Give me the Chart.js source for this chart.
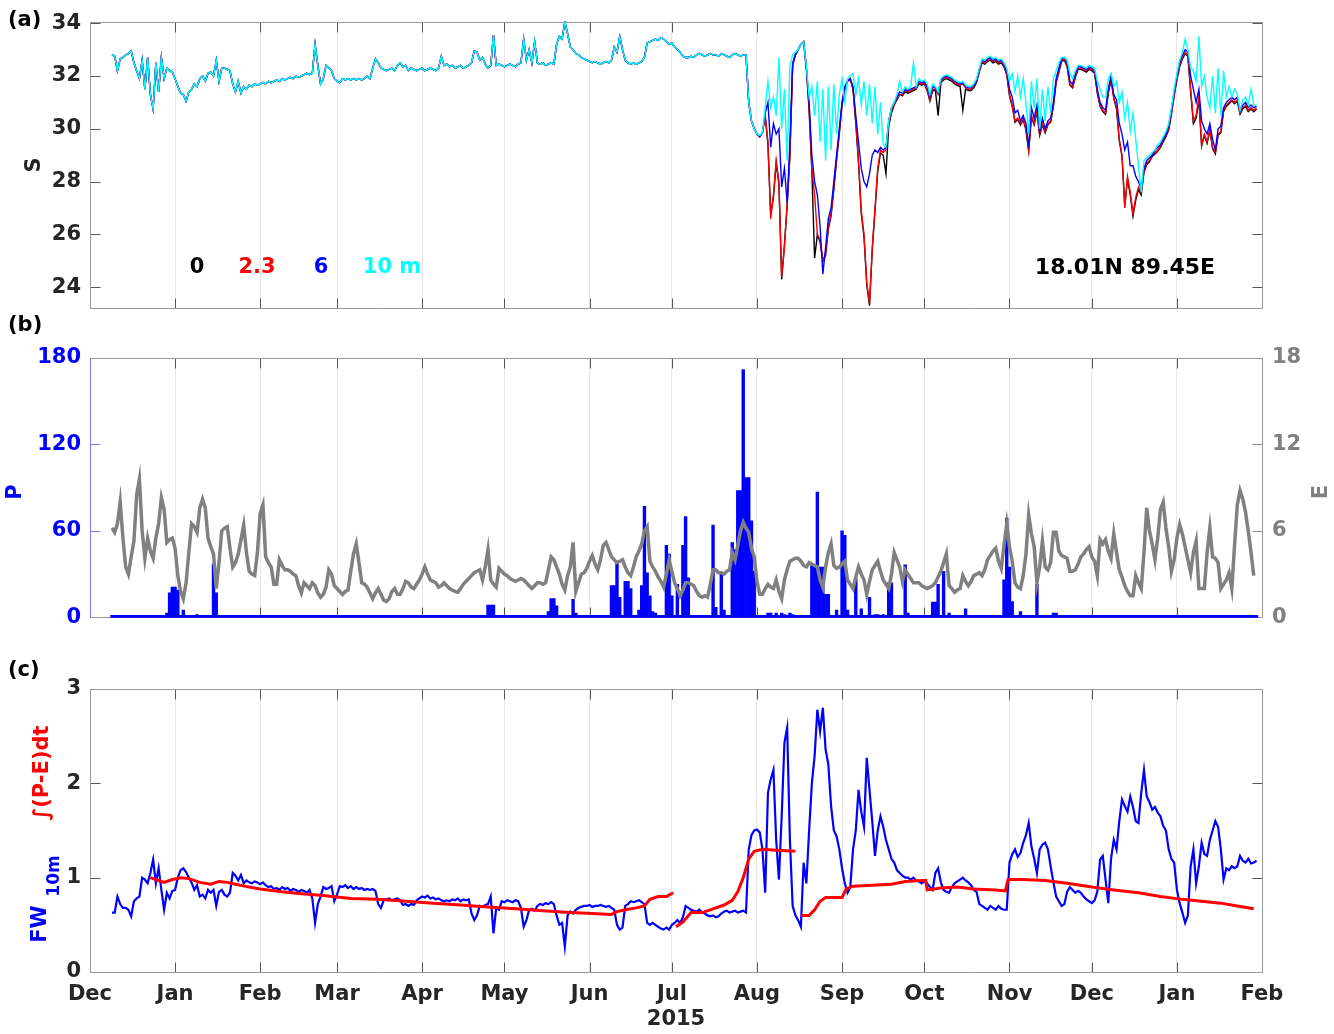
<!DOCTYPE html>
<html>
<head>
<meta charset="utf-8">
<script src="https://cdn.jsdelivr.net/npm/chart.js@4.4.1/dist/chart.umd.min.js"></script>
<style>
  html, body { margin: 0; padding: 0; background: #fff; }
  #wrap { position: relative; width: 1334px; height: 1034px; overflow: hidden; background: #fff; }
  canvas { position: absolute; left: 0; }
</style>
</head>
<body>
<div id="wrap">
  <canvas id="panelA" width="1334" height="330" style="top:0px"></canvas>
  <canvas id="panelB" width="1334" height="340" style="top:300px"></canvas>
  <canvas id="panelC" width="1334" height="394" style="top:640px"></canvas>
</div>
<script>
// days counted from 1 Dec 2014
const monthTicks = [0, 31, 62, 90, 121, 151, 182, 212, 243, 274, 304, 335, 365, 396, 427];
const monthLabels = ['Dec', 'Jan', 'Feb', 'Mar', 'Apr', 'May', 'Jun', 'Jul', 'Aug', 'Sep', 'Oct', 'Nov', 'Dec', 'Jan', 'Feb'];

const sTicks = [24, 26, 28, 30, 32, 34];
const pTicks = [0, 60, 120, 180];
const eTicks = [0, 6, 12, 18];
const fwTicks = [0, 1, 2, 3];

// salinity, days 8..240 (all depths together before the monsoon)
const sMixed = [
  32.8, 32.75, 32.2, 32.65, 32.7, 32.8, 32.85, 32.95, 32.5, 32.2,
  31.9, 32.6, 31.5, 32.7, 31.3, 30.75, 32.5, 31.4, 32.7, 31.9,
  32.3, 32.2, 32.15, 31.9, 31.6, 31.35, 31.3, 31.05, 31.4, 31.5,
  31.7, 31.6, 31.9, 32.0, 31.8, 32.1, 32.15, 32.0, 32.6, 31.8,
  32.3, 32.3, 32.25, 32.2, 31.7, 31.4, 31.8, 31.35, 31.6, 31.5,
  31.65, 31.6, 31.7, 31.65, 31.7, 31.75, 31.7, 31.8, 31.75, 31.8,
  31.85, 31.8, 31.9, 31.85, 31.9, 31.95, 31.9, 32.0, 31.95, 32.0,
  32.05, 32.1, 32.05, 32.1, 33.2, 32.4, 31.7, 31.9, 32.4, 32.3,
  32.2, 31.9, 31.8, 31.75, 31.9, 31.85, 31.9, 31.85, 31.9, 31.85,
  31.9, 31.85, 31.9, 32.0, 31.9, 32.3, 32.65, 32.5, 32.3, 32.25,
  32.2, 32.25, 32.3, 32.2, 32.4, 32.5, 32.35, 32.4, 32.2, 32.3,
  32.25, 32.2, 32.25, 32.3, 32.2, 32.25, 32.3, 32.25, 32.2, 32.3,
  32.75, 32.4, 32.45, 32.35, 32.4, 32.3, 32.35, 32.4, 32.3, 32.35,
  32.4, 32.5, 32.95, 32.9, 32.6, 32.7, 32.45, 32.3, 32.4, 33.55,
  32.4, 32.45, 32.4, 32.35, 32.4, 32.45, 32.4, 32.35, 32.45, 32.5,
  33.4, 32.6, 33.0, 32.5, 33.3, 32.5, 32.45, 32.5, 32.4, 32.45,
  32.5, 32.45, 33.2, 33.5, 33.4, 34.05, 33.6, 33.1, 33.0, 32.85,
  32.8, 32.7, 32.65, 32.6, 32.55, 32.5, 32.55, 32.5, 32.45, 32.5,
  32.55, 32.5, 32.6, 33.1, 32.9, 33.5, 33.0, 32.6, 32.5, 32.45,
  32.5, 32.45, 32.5, 32.55, 32.7, 33.25, 33.3, 33.35, 33.4, 33.35,
  33.45, 33.4, 33.3, 33.2, 33.25, 33.1, 33.0, 32.9, 32.75, 32.7,
  32.7, 32.75, 32.7, 32.8, 32.85, 32.8, 32.75, 32.8, 32.85, 32.8,
  32.8, 32.75, 32.85, 32.8, 32.75, 32.7, 32.8, 32.85, 32.8, 32.75,
  32.8, 32.8, 31.0
];

// salinity by depth, days 241..425
const s10m = [
  30.3, 30.0, 29.8, 29.75, 29.85, 30.8, 31.8, 30.8, 31.2, 30.5,
  32.7, 30.0, 31.5, 28.8, 32.4, 32.8, 32.9, 33.0, 33.2, 33.3,
  32.4, 31.2, 31.6, 30.5, 31.8, 29.5, 31.5, 28.8, 31.6, 29.2,
  31.7, 29.8, 31.3, 31.9, 31.0, 31.9, 32.0, 32.1, 31.3, 31.9,
  30.9, 31.8, 30.5, 31.7, 30.2, 31.6, 29.8, 31.0, 29.4, 29.3,
  30.3, 30.8, 31.0, 31.3, 31.8, 31.4, 31.6, 31.5, 31.6, 32.5,
  31.6, 31.9, 31.8, 31.85, 31.7, 31.3, 31.7, 31.6, 31.4, 31.9,
  32.0, 32.05, 32.0, 31.95, 31.85, 31.8, 31.75, 31.8, 31.65, 31.6,
  31.6, 31.7, 31.9, 32.3, 32.65, 32.6, 32.7, 32.75, 32.65, 32.7,
  32.6, 32.65, 32.5, 32.3, 31.8, 32.1, 31.4, 32.0, 31.2, 31.9,
  31.0, 29.8, 31.8, 30.8, 31.9, 30.0, 31.5, 30.3, 31.6, 30.6,
  31.9, 32.2, 32.5, 32.7, 32.7, 32.6, 32.1, 31.9, 32.2, 32.4,
  32.4, 32.35, 32.3, 32.4, 32.35, 32.3, 31.8, 31.5, 31.2, 31.2,
  31.9, 32.1, 31.6, 31.8, 31.0, 31.4, 30.4, 31.0, 29.9, 30.6,
  29.6, 28.6, 27.6, 28.8, 28.9, 29.0, 29.1, 29.2, 29.4, 29.5,
  29.7, 29.9, 30.2, 30.8, 31.5, 32.1, 32.6, 32.9, 33.4, 33.0,
  32.3, 32.2, 31.8, 33.5, 31.6, 32.0, 31.2, 30.8, 32.0, 30.6,
  32.3, 30.5, 32.2, 31.2, 31.6, 31.2, 31.5, 31.3, 30.7, 31.1,
  31.2, 30.9, 31.5, 30.9, 30.9
];
const s6m = [
  30.3, 30.0, 29.8, 29.7, 29.85, 30.6, 31.0, 29.3, 30.2, 29.8,
  30.0, 27.8, 28.5, 27.2, 29.5, 32.5, 32.8, 33.0, 33.2, 33.3,
  32.3, 31.0, 29.0, 28.0, 27.5, 26.3, 24.5, 25.5, 26.6, 27.0,
  28.0, 29.0, 30.0, 31.0, 31.6, 31.8, 31.9, 31.6, 30.5, 29.5,
  28.5, 28.0, 27.8, 28.3, 29.0, 29.2, 29.1, 29.3, 29.2, 29.3,
  30.3, 30.8, 31.0, 31.2, 31.4, 31.35, 31.5, 31.45, 31.5, 31.55,
  31.6, 31.8, 31.75, 31.8, 31.6, 31.2, 31.6, 31.55, 31.35, 31.85,
  31.95, 32.0, 31.95, 31.9, 31.8, 31.75, 31.7, 31.75, 31.6, 31.55,
  31.55, 31.65, 31.85, 32.25, 32.6, 32.55, 32.65, 32.7, 32.6, 32.65,
  32.55, 32.6, 32.45, 32.2, 31.5, 31.2, 30.6, 30.7, 30.3, 30.5,
  30.2, 29.3, 30.8, 30.4, 30.9, 29.9, 30.4, 30.0, 30.3, 30.4,
  31.0, 31.9, 32.3, 32.65, 32.7, 32.5, 31.8, 31.7, 32.1, 32.35,
  32.35, 32.3, 32.25, 32.35, 32.3, 32.2, 31.5, 31.0, 30.8, 30.7,
  31.5, 32.0, 31.3, 31.1, 30.2, 29.8, 29.2, 29.5, 28.6, 28.6,
  28.2, 28.0, 27.7, 28.5, 28.8, 28.9, 29.0, 29.2, 29.3, 29.4,
  29.6, 29.8, 30.1, 30.7, 31.4, 32.0, 32.5, 32.8, 33.0, 32.9,
  32.0, 31.5, 31.0, 31.5, 30.3, 30.0, 29.8, 30.2, 29.6, 29.2,
  30.0, 30.1, 30.8, 31.0, 31.1, 31.2, 31.1, 31.2, 30.65, 30.9,
  31.0, 30.8, 30.9, 30.8, 30.85
];
const s2p3m = [
  30.3, 30.0, 29.8, 29.7, 29.85, 30.5, 29.5, 26.6, 27.5, 28.8,
  28.0, 24.4, 25.5, 27.2, 29.0, 32.4, 32.8, 33.0, 33.2, 33.3,
  32.3, 30.8, 28.5, 27.5, 26.0, 25.8, 25.0, 25.3, 26.3, 26.8,
  27.8, 28.9, 29.9, 31.0, 31.5, 31.8, 31.9, 31.5, 30.3, 28.8,
  26.9, 26.0, 24.2, 23.4, 25.5, 27.0, 28.5, 29.2, 29.1, 29.2,
  30.2, 30.7, 30.95, 31.15, 31.3, 31.3, 31.45, 31.4, 31.45, 31.5,
  31.55, 31.75, 31.7, 31.75, 31.5, 31.1, 31.5, 31.5, 31.3, 31.8,
  31.9, 31.95, 31.9, 31.85, 31.75, 31.7, 31.65, 31.7, 31.55, 31.5,
  31.5, 31.6, 31.8, 32.2, 32.55, 32.5, 32.6, 32.65, 32.55, 32.6,
  32.5, 32.55, 32.4, 32.1, 31.3, 30.9, 30.3, 30.4, 30.2, 30.4,
  30.0, 29.2, 30.5, 30.2, 30.7, 29.8, 30.2, 29.9, 30.2, 30.3,
  30.9, 31.8, 32.2, 32.6, 32.65, 32.4, 31.7, 31.6, 32.0, 32.3,
  32.3, 32.25, 32.2, 32.3, 32.25, 32.15, 31.4, 30.9, 30.7, 30.6,
  31.4, 31.9, 31.2, 30.8, 29.6, 29.0, 27.0, 28.2, 27.6, 26.8,
  27.4, 27.8, 27.6, 28.4, 28.7, 28.8, 29.0, 29.1, 29.2, 29.35,
  29.55, 29.75, 30.0, 30.6, 31.3, 31.9, 32.4, 32.7, 32.9, 32.8,
  31.5, 30.3, 30.5, 31.2, 29.4, 29.8, 29.5, 30.0, 29.3, 29.1,
  29.8, 29.9, 30.7, 30.9, 31.0, 31.1, 31.0, 31.1, 30.6, 30.8,
  30.9, 30.7, 30.8, 30.7, 30.8
];
const s0m = [
  30.3, 30.0, 29.8, 29.7, 29.85, 30.5, 29.4, 26.8, 27.4, 28.7,
  27.9, 24.3, 25.6, 27.1, 29.0, 32.4, 32.8, 33.0, 33.2, 33.3,
  32.3, 30.7, 28.4, 25.1, 26.0, 25.7, 25.0, 25.2, 26.2, 26.7,
  27.7, 28.8, 29.8, 30.9, 31.5, 31.8, 31.9, 31.5, 30.2, 28.7,
  26.8, 25.9, 24.1, 23.3, 25.4, 26.9, 28.4, 29.1, 29.0, 28.3,
  30.1, 30.6, 30.9, 31.1, 31.3, 31.25, 31.4, 31.35, 31.4, 31.45,
  31.5, 31.7, 31.65, 31.7, 31.45, 31.05, 31.45, 31.45, 30.5, 31.75,
  31.85, 31.9, 31.85, 31.8, 31.7, 31.65, 31.6, 30.7, 31.5, 31.45,
  31.45, 31.55, 31.75, 32.15, 32.5, 32.45, 32.55, 32.6, 32.5, 32.55,
  32.45, 32.5, 32.35, 32.05, 31.25, 30.85, 30.25, 30.35, 30.15, 30.35,
  29.95, 29.15, 30.45, 30.15, 30.65, 29.75, 30.15, 29.85, 30.15, 30.25,
  30.85, 31.75, 32.15, 32.55, 32.6, 32.35, 31.65, 31.55, 31.95, 32.25,
  32.25, 32.2, 32.15, 32.25, 32.2, 32.1, 31.35, 30.85, 30.65, 30.55,
  31.35, 31.85, 31.15, 30.75, 29.55, 28.95, 27.1, 28.1, 27.5, 26.7,
  27.3, 27.7, 27.5, 28.35, 28.65, 28.75, 28.95, 29.05, 29.15, 29.3,
  29.5, 29.7, 29.95, 30.55, 31.25, 31.85, 32.35, 32.65, 32.85, 32.75,
  31.4, 30.2, 30.4, 31.1, 29.35, 29.75, 29.45, 29.95, 29.25, 29.05,
  29.75, 29.85, 30.65, 30.85, 30.95, 31.05, 30.95, 31.05, 30.55, 30.75,
  30.85, 30.65, 30.75, 30.65, 30.75
];

// precipitation: rainy days and daily totals (all other days 8..425 are dry)
const pDays = [
  28, 29, 30, 31, 32, 34, 39, 45, 46, 68,
  145, 146, 147, 148, 167, 168, 169, 170, 176, 177, 185,
  190, 191, 192, 193, 195, 196, 197, 200, 201, 202, 203, 204, 205, 206,
  210, 211, 212, 214, 216, 217, 218,
  227, 228, 230, 231, 234, 235, 236, 237, 238, 239, 240, 241, 242,
  247, 248, 250, 252, 253, 255, 256,
  263, 264, 265, 266, 267, 268, 269, 272, 274, 275, 276, 279, 281, 284, 286, 287, 289,
  291, 292, 297, 298, 307, 308, 309, 311, 313, 319,
  333, 334, 335, 336, 339, 345, 351, 352, 378, 379, 386
];
const pVals = [
  3, 17, 21, 21, 19, 5, 2, 37, 17, 1,
  8.5, 8.5, 8.5, 1.5, 4, 13, 13, 8, 12.5, 3, 1.5,
  22, 22, 38, 14, 25, 25, 20, 5, 22, 77, 31, 15, 4, 3,
  50, 44, 15, 23, 50, 70, 27.5,
  64, 7, 30, 5, 52, 47, 88, 88, 172, 97, 97, 67, 32,
  3, 3, 3, 3, 2, 3, 2,
  36, 36, 87, 35, 35, 16, 16, 5, 60, 57, 5, 27, 6, 14, 2, 2, 2,
  24, 24, 36.5, 3, 10.7, 10.7, 23, 32, 3, 6,
  26, 69, 35, 11, 4, 23, 3, 3, 1.5, 1.5, 1
];

// evaporation, days 8..424
const evap = [
  6.2, 5.9, 6.5, 8.0, 5.5, 3.5, 3.0, 4.2, 5.3, 8.5,
  9.6, 6.0, 4.1, 5.5, 4.6, 4.1, 5.5, 6.5, 8.3, 7.5,
  5.2, 5.4, 5.5, 4.8, 2.9, 1.8, 1.3, 2.4, 4.5, 6.5,
  6.3, 5.9, 7.6, 8.2, 7.6, 5.5, 4.9, 4.4, 2.0, 3.8,
  6.0, 6.2, 6.3, 4.8, 3.5, 3.8, 4.4, 5.4, 6.4, 4.5,
  3.2, 3.0, 2.9, 4.5, 7.2, 7.8, 4.2, 3.8, 3.5, 2.3,
  2.3, 4.0, 3.6, 3.3, 3.3, 3.2, 3.0, 2.9, 2.2, 1.7,
  2.4, 2.2, 2.0, 2.4, 2.2, 1.7, 1.4, 1.6, 2.1, 3.3,
  3.0, 2.2, 2.0, 1.8, 1.6, 1.8, 1.9, 3.2, 4.4, 5.1,
  3.8, 2.4, 2.3, 2.1, 1.7, 1.3, 1.7, 2.0, 1.6, 1.2,
  1.1, 1.3, 1.8, 2.0, 1.6, 1.6, 2.0, 2.5, 2.4, 2.1,
  2.0, 2.3, 2.6, 3.0, 3.5, 3.0, 2.6, 2.5, 2.4, 2.1,
  2.2, 2.4, 2.2, 2.0, 1.9, 1.8, 1.75, 2.0, 2.3, 2.5,
  2.7, 2.9, 3.1, 3.2, 3.3, 2.6, 3.5, 4.7, 2.6, 2.3,
  2.1, 3.4, 3.2, 3.0, 2.9, 2.7, 2.6, 2.5, 2.6, 2.7,
  2.6, 2.4, 2.2, 2.0, 2.2, 2.4, 2.4, 2.3, 2.4, 3.3,
  4.2, 4.0, 3.5, 3.0, 2.3, 1.9, 2.9, 3.5, 5.2, 1.8,
  2.4, 3.0, 3.1, 3.4, 3.9, 4.3, 3.7, 3.3, 4.0, 5.0,
  5.2, 4.7, 4.2, 4.0, 3.8, 3.9, 4.0, 3.5, 3.1, 2.9,
  3.5, 4.2, 4.6, 5.1, 6.0, 6.3, 3.9, 3.5, 3.2, 2.8,
  2.5, 2.1, 3.0, 4.0, 3.2, 2.4, 2.0, 1.5, 1.9, 2.4,
  2.4, 2.3, 2.2, 1.8, 1.5, 1.4, 1.5, 1.4, 2.3, 3.3,
  3.3, 3.1, 3.1, 3.0, 3.2, 3.3, 4.5, 4.0, 5.0, 6.0,
  6.6, 6.2, 5.9, 4.8, 4.2, 2.5, 1.6, 1.6, 2.0, 2.3,
  2.1, 2.0, 2.6, 1.8, 1.3, 2.6, 3.3, 3.9, 4.0, 4.1,
  4.1, 3.9, 3.6, 3.5, 3.8, 3.7, 3.6, 3.5, 2.6, 2.1,
  3.5, 4.5, 5.1, 3.6, 3.4, 3.5, 3.7, 3.9, 2.6, 2.3,
  2.0, 2.8, 3.5, 3.0, 2.6, 1.6, 2.5, 3.3, 3.6, 3.9,
  3.2, 2.6, 2.3, 2.0, 3.0, 4.5, 4.0, 3.5, 2.5, 3.3,
  3.0, 2.7, 2.4, 2.4, 2.4, 2.2, 2.1, 2.0, 2.1, 2.2,
  2.4, 2.8, 3.2, 3.8, 4.4, 2.2, 2.0, 1.75, 1.9, 2.0,
  2.9, 2.5, 2.2, 2.5, 2.9, 3.0, 3.1, 2.9, 3.3, 4.0,
  4.3, 4.6, 4.8, 3.9, 3.4, 5.0, 6.5, 4.9, 3.9, 2.4,
  2.1, 2.0, 2.9, 4.4, 7.1, 5.8, 4.9, 2.4, 3.5, 5.3,
  3.5, 3.3, 3.8, 5.9, 5.9, 4.6, 4.3, 4.2, 4.1, 3.2,
  3.2, 3.3, 3.7, 4.2, 4.4, 4.7, 4.9, 4.2, 3.9, 2.9,
  5.4, 5.1, 5.4, 4.6, 4.1, 5.8, 4.5, 3.3, 2.8, 2.2,
  1.8, 1.5, 1.5, 2.9, 2.4, 2.0, 4.5, 7.6, 6.0, 5.1,
  4.0, 5.5, 7.5, 8.0, 6.2, 4.9, 3.2, 4.0, 5.5, 6.45,
  5.8, 4.9, 4.0, 3.1, 4.5, 5.3, 2.0, 2.0, 2.0, 4.5,
  6.2, 4.2, 4.1, 3.8, 2.0, 2.3, 2.6, 3.1, 2.0, 5.0,
  7.8, 8.8, 8.2, 7.3, 6.0, 4.5, 2.9
];

// freshwater content of the top 10 m, days 8..425
const fw10m = [
  0.63, 0.63, 0.8, 0.72, 0.68, 0.68, 0.66, 0.59, 0.75, 0.78,
  0.8, 1.0, 0.98, 0.94, 1.05, 1.19, 0.94, 1.1, 0.87, 0.66,
  0.84, 0.78, 0.86, 0.87, 1.0, 1.08, 1.1, 1.06, 1.0, 0.95,
  0.87, 0.92, 0.8, 0.82, 0.78, 0.87, 0.84, 0.87, 0.7, 0.85,
  0.87, 0.82, 0.8, 0.84, 1.05, 1.02, 0.97, 1.03, 0.94, 0.97,
  0.95, 0.94, 0.96, 0.95, 0.93, 0.95, 0.92, 0.9, 0.91, 0.88,
  0.89, 0.87, 0.9, 0.88, 0.89, 0.86, 0.88, 0.87, 0.85, 0.87,
  0.86, 0.84, 0.87, 0.78, 0.52, 0.72, 0.8, 0.9, 0.88, 0.89,
  0.91, 0.75, 0.82, 0.91, 0.9, 0.92, 0.89, 0.91, 0.88, 0.9,
  0.88, 0.89, 0.87, 0.88, 0.87, 0.88, 0.86, 0.72, 0.68, 0.76,
  0.77, 0.78, 0.76, 0.77, 0.78, 0.76, 0.71, 0.72, 0.7, 0.72,
  0.71, 0.76, 0.78, 0.8, 0.79, 0.81, 0.78, 0.79, 0.77, 0.78,
  0.76, 0.75, 0.76, 0.75, 0.77, 0.76, 0.78, 0.75, 0.77, 0.76,
  0.77, 0.62, 0.55, 0.6, 0.7, 0.69, 0.71, 0.72, 0.8, 0.41,
  0.68, 0.66, 0.75, 0.74, 0.76, 0.75, 0.74, 0.76, 0.75, 0.68,
  0.48, 0.55, 0.66, 0.67, 0.65, 0.7, 0.72, 0.71, 0.73, 0.72,
  0.74, 0.72, 0.6, 0.5, 0.52, 0.27, 0.6, 0.64, 0.62, 0.66,
  0.68, 0.69, 0.7, 0.7, 0.71, 0.69, 0.7, 0.7, 0.71, 0.7,
  0.69, 0.7, 0.68, 0.66, 0.5, 0.45, 0.47, 0.7, 0.72, 0.75,
  0.74, 0.75, 0.76, 0.74, 0.72, 0.52, 0.5, 0.52, 0.5, 0.48,
  0.46, 0.45, 0.47, 0.45, 0.5, 0.52, 0.55, 0.52, 0.58, 0.7,
  0.68, 0.66, 0.65, 0.64, 0.66, 0.63, 0.62, 0.6, 0.59, 0.6,
  0.58, 0.59, 0.62, 0.64, 0.65, 0.63, 0.64, 0.65, 0.63, 0.64,
  0.65, 0.63, 1.3, 1.45, 1.5, 1.51, 1.48, 1.3, 0.84, 1.9,
  2.04, 2.14, 1.4, 0.98, 1.65, 2.43, 2.59, 1.4, 0.7, 0.6,
  0.55, 0.48, 1.16, 0.94, 1.5, 2.0, 2.29, 2.78, 2.55, 2.8,
  2.36, 2.2, 1.76, 1.5, 1.44, 1.3, 1.1, 0.94, 0.84, 0.9,
  1.3, 1.5, 1.93, 1.7, 1.54, 2.27, 1.93, 1.6, 1.23, 1.5,
  1.65, 1.54, 1.4, 1.3, 1.2, 1.16, 1.08, 1.05, 1.02, 1.0,
  1.0, 0.98, 1.0, 0.97, 0.96, 0.94, 0.96, 0.94, 0.9, 0.87,
  1.05, 1.1, 0.95, 0.87, 0.85, 0.84, 0.9, 0.94, 0.96, 0.98,
  1.0, 0.97, 0.95, 0.92, 0.87, 0.85, 0.72, 0.7, 0.68, 0.66,
  0.7, 0.68, 0.66, 0.7, 0.67, 0.66, 0.66, 1.16, 1.25, 1.3,
  1.22, 1.26, 1.37, 1.45, 1.58, 1.33, 1.2, 1.05, 1.3, 1.35,
  1.37, 1.3, 1.12, 0.95, 0.8, 0.75, 0.7, 0.72, 0.85, 0.9,
  0.87, 0.84, 0.86, 0.84, 0.8, 0.77, 0.75, 0.73, 0.76, 0.85,
  1.19, 1.23, 0.98, 0.73, 1.2, 1.4, 1.3, 1.6, 1.83, 1.76,
  1.7, 1.86, 1.75, 1.6, 1.58, 1.9, 2.14, 1.86, 1.8, 1.72,
  1.75, 1.69, 1.65, 1.55, 1.5, 1.3, 1.2, 1.16, 0.87, 0.73,
  0.63, 0.52, 0.6, 1.12, 1.3, 0.94, 1.12, 1.37, 1.25, 1.23,
  1.4, 1.5, 1.6, 1.54, 1.3, 0.98, 1.1, 1.08, 1.12, 1.1,
  1.12, 1.23, 1.18, 1.16, 1.2, 1.15, 1.16, 1.18
];

// integrated P-E (null = restart of the integration)
const pmeDays = [
  22, 25, 27, 30, 33, 36, 40, 44, 47, 50, 53, 58, 62, 70, 77, 85, 95, 105, 115, 125,
  135, 145, 155, 165, 175, 183, 190, 192, 195, 199, 202, 204, 207, 210, 212.5,
  213, 213.5, 216, 219, 223, 227, 231, 234, 236, 238, 240, 242, 245, 250, 257,
  258, 259, 262, 264, 266, 268, 274, 275.5, 278, 285, 292, 297, 303, 304.5, 305,
  310, 316, 322, 330, 333.5, 334.5, 340, 348, 356, 365, 373, 382, 390, 398, 405,
  412, 418, 424
];
const pmeVals = [
  1.0, 0.97, 0.95, 0.98, 1.0, 0.99, 0.95, 0.93, 0.96, 0.95, 0.93, 0.9, 0.88, 0.85, 0.83, 0.81, 0.78, 0.77, 0.75, 0.73,
  0.71, 0.69, 0.67, 0.65, 0.63, 0.62, 0.61, 0.64, 0.66, 0.68, 0.7, 0.77, 0.8, 0.8, 0.84,
  null, 0.48, 0.53, 0.63, 0.63, 0.67, 0.71, 0.76, 0.85, 1.0, 1.2, 1.28, 1.3, 1.29, 1.28,
  null, 0.6, 0.6, 0.66, 0.75, 0.79, 0.79, 0.88, 0.91, 0.92, 0.93, 0.96, 0.97, 0.97, 0.87,
  0.89, 0.9, 0.88, 0.87, 0.86, 0.98, 0.98, 0.97, 0.94, 0.9, 0.87, 0.84, 0.8, 0.77, 0.75,
  0.73, 0.7, 0.67
];

const FONT = "'DejaVu Sans', sans-serif";
const INK = '#262626';
const tickFont = { family: FONT, size: 21, weight: 'bold' };

const series = (start, values) => values.map((v, i) => ({ x: start + i, y: v }));

const rainByDay = new Map(pDays.map((d, i) => [d, pVals[i]]));
const dailyP = [];
for (let d = 8; d <= 425; d++) dailyP.push({ x: d, y: rainByDay.get(d) || 0 });

// frame, inward tick marks and text labels (MATLAB style)
const panelDecor = {
  id: 'panelDecor',
  beforeDatasetsDraw(chart, args, o) {
    const { ctx, chartArea: a, scales } = chart;
    const L = Math.round(a.left) + 0.5, R = Math.round(a.right) + 0.5;
    const T = Math.round(a.top) + 0.5, B = Math.round(a.bottom) + 0.5;
    ctx.save();
    ctx.lineWidth = 1;
    ctx.strokeStyle = '#555';
    ctx.beginPath();
    monthTicks.forEach(d => {
      const px = Math.round(scales.x.getPixelForValue(d)) + 0.5;
      ctx.moveTo(px, T); ctx.lineTo(px, T + 10);
      ctx.moveTo(px, B); ctx.lineTo(px, B - 10);
    });
    ctx.stroke();
    o.marks.forEach(m => {
      const sc = scales[m.axis];
      const x0 = m.side === 'right' ? R : L;
      const dx = m.side === 'right' ? -10 : 10;
      ctx.strokeStyle = m.color;
      ctx.beginPath();
      m.values.forEach(v => {
        const py = Math.round(sc.getPixelForValue(v)) + 0.5;
        ctx.moveTo(x0, py); ctx.lineTo(x0 + dx, py);
      });
      ctx.stroke();
    });
    ctx.strokeStyle = '#9a9a9a';
    ctx.beginPath();
    ctx.moveTo(L, T); ctx.lineTo(R, T);
    ctx.moveTo(L, B); ctx.lineTo(R, B);
    ctx.stroke();
    ctx.strokeStyle = o.leftColor;
    ctx.beginPath(); ctx.moveTo(L, T); ctx.lineTo(L, B); ctx.stroke();
    ctx.strokeStyle = o.rightColor;
    ctx.beginPath(); ctx.moveTo(R, T); ctx.lineTo(R, B); ctx.stroke();
    ctx.restore();
  },
  afterDraw(chart, args, o) {
    const ctx = chart.ctx;
    o.texts.forEach(t => {
      ctx.save();
      ctx.font = `bold ${t.size || 21}px ${FONT}`;
      ctx.fillStyle = t.color;
      ctx.textAlign = t.align || 'center';
      ctx.textBaseline = 'middle';
      ctx.translate(t.x, t.y);
      if (t.rot) ctx.rotate(-Math.PI / 2);
      ctx.fillText(t.text, 0, 0);
      ctx.restore();
    });
  }
};

const dayAxis = (height, showLabels) => ({
  type: 'linear',
  min: 0,
  max: 427,
  offset: false,
  afterBuildTicks: s => { s.ticks = monthTicks.map(v => ({ value: v })); },
  afterFit: s => { s.height = height; },
  grid: { color: '#e6e6e6', lineWidth: 1, drawTicks: false, offset: false },
  border: { display: false },
  ticks: {
    display: showLabels,
    autoSkip: false,
    maxRotation: 0,
    padding: 10,
    color: INK,
    font: tickFont,
    callback: v => monthLabels[monthTicks.indexOf(v)]
  }
});

const valueAxis = (position, min, max, ticks, color, width, showLabels = true) => ({
  type: 'linear',
  position,
  min,
  max,
  afterBuildTicks: s => { s.ticks = ticks.map(v => ({ value: v })); },
  afterFit: s => { s.width = width; },
  grid: { display: false, drawTicks: false },
  border: { display: false },
  ticks: { display: showLabels, color, padding: position === 'left' ? 9 : 10, font: tickFont }
});

const common = {
  responsive: false,
  animation: false,
  devicePixelRatio: 1,
  events: []
};

const sLine = (label, color, vals) => ({
  label,
  data: series(8, sMixed.concat(vals)),
  borderColor: color,
  borderWidth: 1.4,
  pointRadius: 0,
  tension: 0
});

// (a) salinity at four depths
new Chart(document.getElementById('panelA'), {
  type: 'line',
  data: {
    datasets: [
      sLine('10 m', '#00ffff', s10m),
      sLine('6 m', '#0000ff', s6m),
      sLine('2.3 m', '#ff0000', s2p3m),
      sLine('0 m', '#000000', s0m)
    ]
  },
  options: {
    ...common,
    layout: { padding: { top: 18, right: 72, left: 0, bottom: 0 } },
    scales: {
      x: dayAxis(18, false),
      y: valueAxis('left', 23.2, 34.06, sTicks, INK, 90)
    },
    plugins: {
      legend: { display: false },
      tooltip: { enabled: false },
      panelDecor: {
        leftColor: '#9a9a9a',
        rightColor: '#9a9a9a',
        marks: [
          { axis: 'y', side: 'left', values: sTicks, color: '#555' },
          { axis: 'y', side: 'right', values: sTicks, color: '#555' }
        ],
        texts: [
          { text: '(a)', x: 8, y: 21, color: '#000', align: 'left' },
          { text: 'S', x: 35, y: 165, color: INK, rot: true },
          { text: '0', x: 197, y: 268, color: '#000' },
          { text: '2.3', x: 257, y: 268, color: '#ff0000' },
          { text: '6', x: 321, y: 268, color: '#0000ff' },
          { text: '10 m', x: 392, y: 268, color: '#00ffff' },
          { text: '18.01N 89.45E', x: 1125, y: 268, color: '#000', size: 22 }
        ]
      }
    }
  },
  plugins: [panelDecor]
});

// (b) precipitation bars and evaporation
new Chart(document.getElementById('panelB'), {
  type: 'bar',
  data: {
    datasets: [
      {
        type: 'line',
        label: 'E',
        data: series(8, evap),
        yAxisID: 'yE',
        borderColor: '#808080',
        borderWidth: 3.5,
        pointRadius: 0,
        tension: 0
      },
      {
        type: 'bar',
        label: 'P',
        data: dailyP,
        yAxisID: 'yP',
        backgroundColor: '#0000ff',
        borderWidth: 0,
        barPercentage: 1,
        categoryPercentage: 1,
        minBarLength: 2,
        clip: 3
      }
    ]
  },
  options: {
    ...common,
    layout: { padding: { top: 58, right: 0, left: 0, bottom: 0 } },
    scales: {
      x: dayAxis(14, false),
      yP: valueAxis('left', 0, 180, pTicks, '#0000ff', 90),
      yE: valueAxis('right', 0, 18, eTicks, '#808080', 72)
    },
    plugins: {
      legend: { display: false },
      tooltip: { enabled: false },
      panelDecor: {
        leftColor: '#7a7aff',
        rightColor: '#9a9a9a',
        marks: [
          { axis: 'yP', side: 'left', values: pTicks, color: '#7a7aff' },
          { axis: 'yE', side: 'right', values: eTicks, color: '#8a8a8a' }
        ],
        texts: [
          { text: '(b)', x: 8, y: 26, color: '#000', align: 'left' },
          { text: 'P', x: 16, y: 192, color: '#0000ff', rot: true },
          { text: 'E', x: 1322, y: 192, color: '#808080', rot: true }
        ]
      }
    }
  },
  plugins: [panelDecor]
});

// (c) 10 m freshwater content and integrated P-E
new Chart(document.getElementById('panelC'), {
  type: 'line',
  data: {
    datasets: [
      {
        label: '∫(P-E)dt',
        data: pmeDays.map((d, i) => ({ x: d, y: pmeVals[i] })),
        borderColor: '#ff0000',
        borderWidth: 3,
        pointRadius: 0,
        tension: 0,
        spanGaps: false
      },
      {
        label: 'FW10m',
        data: series(8, fw10m),
        borderColor: '#0000ff',
        borderWidth: 2.2,
        pointRadius: 0,
        tension: 0
      }
    ]
  },
  options: {
    ...common,
    layout: { padding: { top: 49, right: 72, left: 0, bottom: 0 } },
    scales: {
      x: dayAxis(62, true),
      y: valueAxis('left', 0, 3, fwTicks, INK, 90)
    },
    plugins: {
      legend: { display: false },
      tooltip: { enabled: false },
      panelDecor: {
        leftColor: '#9a9a9a',
        rightColor: '#9a9a9a',
        marks: [
          { axis: 'y', side: 'left', values: fwTicks, color: '#555' },
          { axis: 'y', side: 'right', values: fwTicks, color: '#555' }
        ],
        texts: [
          { text: '(c)', x: 8, y: 31, color: '#000', align: 'left' },
          { text: 'FW', x: 41, y: 284, color: '#0000ff', rot: true },
          { text: '10m', x: 55, y: 236, color: '#0000ff', rot: true, size: 17 },
          { text: '∫(P-E)dt', x: 43, y: 133, color: '#ff0000', rot: true },
          { text: '2015', x: 676, y: 380, color: INK }
        ]
      }
    }
  },
  plugins: [panelDecor]
});
</script>
</body>
</html>
